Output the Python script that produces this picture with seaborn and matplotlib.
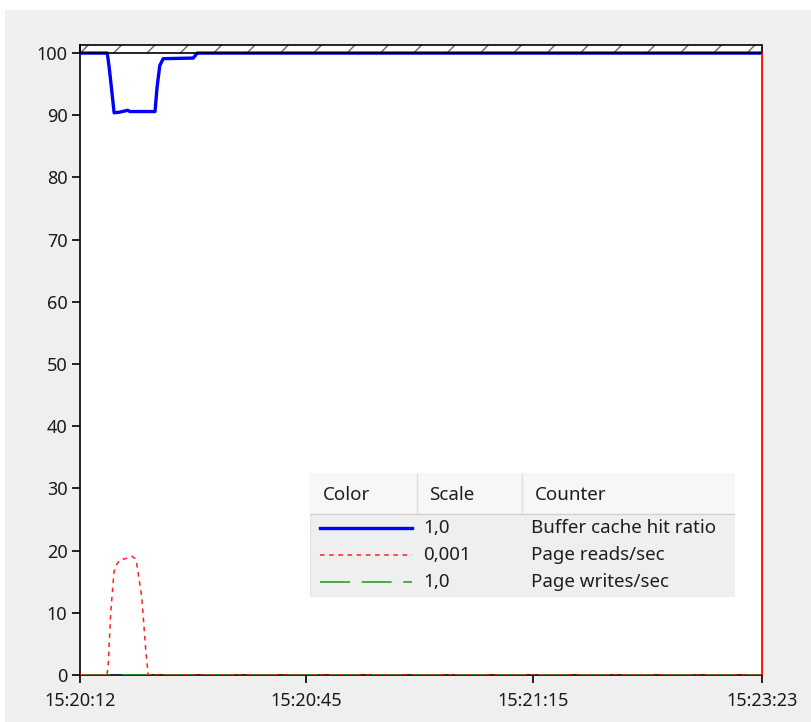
import pandas as pd
import seaborn as sns
import matplotlib.pyplot as plt
from matplotlib.patches import Rectangle

# sample index (perfmon graph has 100 samples across the window)
hit_x = [0, 4, 4.3, 4.7, 5.0, 5.8, 7.0, 7.3, 11.0, 11.3, 11.7, 12.2, 16.6, 17.2, 100]
hit_y = [100, 100, 97.5, 93.5, 90.4, 90.5, 90.8, 90.6, 90.6, 94.5, 98.0, 99.1, 99.2, 100, 100]

reads_x = [0, 3.96, 4.15, 4.5, 4.99, 5.4, 5.87, 7.0, 7.58, 8.0, 8.3, 9.05, 9.68, 10.0, 100]
reads_y = [0, 0, 1.9, 10.0, 16.6, 17.8, 18.5, 18.8, 19.1, 18.8, 18.0, 12.6, 3.5, 0, 0]

writes_x = [0, 100]
writes_y = [0, 0]

tick_pos = [0, 33.1, 66.4, 100]
tick_labels = ['15:20:12', '15:20:45', '15:21:15', '15:23:23']

counters = ['Buffer cache hit ratio', 'Page reads/sec', 'Page writes/sec']
scales = ['1,0', '0,001', '1,0']

df = pd.concat([
    pd.DataFrame({'t': hit_x, 'v': hit_y, 'counter': counters[0]}),
    pd.DataFrame({'t': reads_x, 'v': reads_y, 'counter': counters[1]}),
    pd.DataFrame({'t': writes_x, 'v': writes_y, 'counter': counters[2]}),
])

plt.rcParams['font.family'] = ['Noto Sans', 'DejaVu Sans']
bg = '#efefef'

fig = plt.figure(figsize=(8.11, 7.22), dpi=100)
fig.patch.set_facecolor('white')
fig.patches.append(Rectangle((5 / 811, 0), 1, 1 - 10 / 722, transform=fig.transFigure,
                             facecolor=bg, edgecolor='none', zorder=-10))

ax = fig.add_axes([80 / 811, 1 - 675 / 722, 682 / 811, 630 / 722])
ax.set_facecolor('white')

styles = {counters[0]: dict(color='#0000ff', lw=2.4, ls='-'),
          counters[1]: dict(color='#ff2020', lw=1.1, ls=(0, (3, 3))),
          counters[2]: dict(color='#2ca02c', lw=1.2, ls=(0, (18, 7)))}

for name in [counters[2], counters[1], counters[0]]:
    st = styles[name]
    sns.lineplot(data=df[df['counter'] == name], x='t', y='v', ax=ax,
                 color=st['color'], linewidth=st['lw'], linestyle=st['ls'],
                 legend=False, estimator=None, sort=False, zorder=3)

ymax = 101.3
ax.set_xlim(0, 100)
ax.set_ylim(0, ymax)

# hatched region above 100
ax.add_patch(Rectangle((0, 100), 100, ymax - 100, facecolor='white', edgecolor='#666666',
                       hatch='/', linewidth=0, zorder=2))
ax.add_patch(Rectangle((0, 100), 100, ymax - 100, facecolor='none', edgecolor='black',
                       linewidth=1.2, zorder=4, clip_on=False))
# time cursor
ax.vlines(100, 0, 100, color='red', linewidth=1.3, zorder=5, clip_on=False)

for s in ['top', 'right']:
    ax.spines[s].set_visible(False)
ax.spines['left'].set_linewidth(1.2)
ax.spines['bottom'].set_linewidth(1.2)
ax.spines['bottom'].set_zorder(1)

ax.set_yticks(range(0, 101, 10))
ax.set_xticks(tick_pos)
ax.set_xticklabels(tick_labels)
ax.tick_params(axis='both', length=6, width=1.2, labelsize=13, colors='black', pad=3,
               labelcolor='#1a1a1a')
ax.tick_params(axis='x', pad=6)
ax.set_xlabel('')
ax.set_ylabel('')

# counter table legend, drawn in pixel-like coordinates
lg = fig.add_axes([310 / 811, 1 - 597 / 722, 425 / 811, 124 / 722])
lg.set_xlim(310, 735)
lg.set_ylim(597, 473)
lg.axis('off')
lg.add_patch(Rectangle((310, 473), 425, 124, facecolor=bg, edgecolor='#e4e4e4', lw=0.8))
lg.add_patch(Rectangle((310, 473), 425, 41, facecolor='#f7f7f7', edgecolor='none'))
lg.plot([310, 735], [514, 514], color='#d2d2d2', lw=1)
for xs in [417, 522]:
    lg.plot([xs, xs], [474, 514], color='#dedede', lw=1)
hdr_font = dict(fontsize=13.5, va='center', ha='left', color='#1e1e1e')
lg.text(323, 495, 'Color', **hdr_font)
lg.text(429, 495, 'Scale', **hdr_font)
lg.text(535, 495, 'Counter', **hdr_font)
rows_y = [528, 555, 582]
for name, sc, yy in zip(counters, scales, rows_y):
    st = styles[name]
    lg.plot([320, 412], [yy, yy], color=st['color'], lw=st['lw'], ls=st['ls'])
    lg.text(423, yy, sc, **hdr_font)
    lg.text(531, yy, name, **hdr_font)

plt.savefig('out.png', dpi=100, facecolor=fig.get_facecolor())
